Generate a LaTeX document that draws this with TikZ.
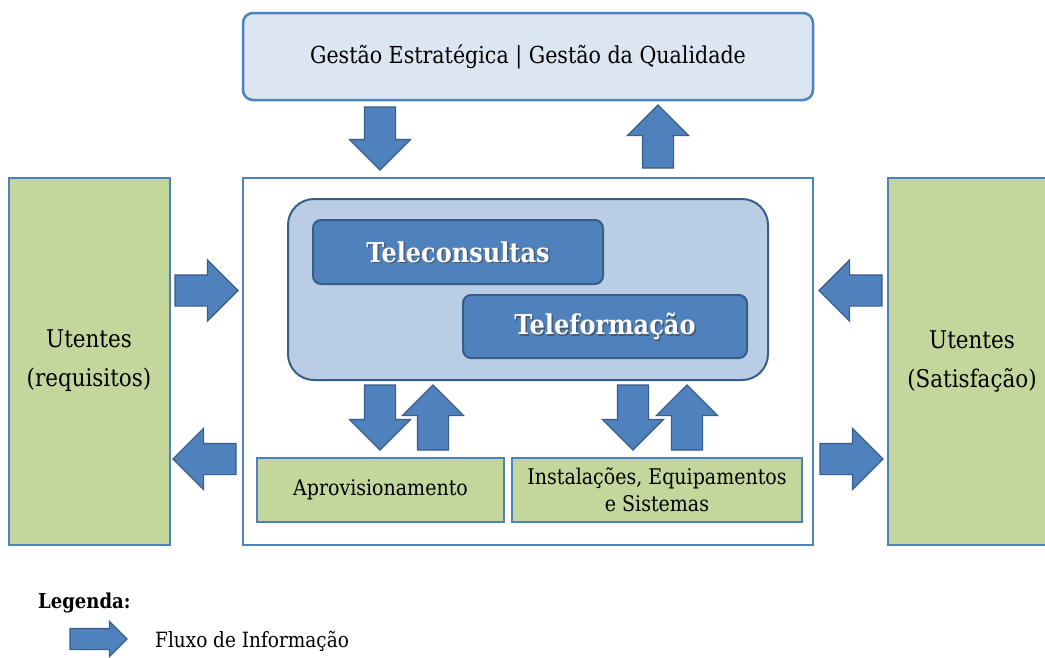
\documentclass[tikz,border=0pt]{standalone}
\usepackage{fontspec}
\setmainfont[FakeStretch=0.88]{DejaVu Serif}
\usetikzlibrary{shapes.arrows}
\definecolor{accent}{HTML}{4F81BD}
\definecolor{accentdark}{HTML}{385D8A}
\definecolor{paleblue}{HTML}{DCE6F2}
\definecolor{midblue}{HTML}{B9CDE5}
\definecolor{palegreen}{HTML}{C3D69B}
\begin{document}
\begin{tikzpicture}[x=1pt,y=1pt,
  box/.style={draw=accent, line width=2pt, inner sep=0pt, outer sep=0pt},
  greenbox/.style={box, fill=palegreen},
  topbox/.style={box, fill=paleblue, line width=2.5pt, rounded corners=10pt},
  frame/.style={box, fill=white},
  innerbox/.style={draw=accentdark, fill=midblue, line width=2pt, rounded corners=26pt, inner sep=0pt},
  darkbox/.style={draw=accentdark, fill=accent, line width=2pt, rounded corners=8pt, inner sep=0pt},
  flow/.style={single arrow, fill=accent, draw=accentdark, line width=1.2pt,
    minimum height=63pt, inner xsep=0pt, inner ysep=15pt, single arrow head extend=15pt,
    single arrow tip angle=90, outer sep=0pt, anchor=tip},
  legendflow/.style={flow, minimum height=57pt, inner ysep=10pt, single arrow head extend=7pt},
  plain/.style={font=\fontsize{21.6}{27}\selectfont, align=center, inner sep=0pt},
  side/.style={font=\fontsize{24.4}{39}\selectfont, align=center, inner sep=0pt},
  bold/.style={font=\bfseries\fontsize{27.3}{27}\selectfont, inner sep=0pt},
  shadowtext/.style={bold, text=black!75, opacity=0.6},
  whitetext/.style={bold, text=white}
]
\useasboundingbox (0,0) rectangle (1045,-657);

% top box
\node[topbox, minimum width=570, minimum height=87] (top) at (528,-56.5) {};
\node[plain, font=\fontsize{23.4}{27}\selectfont] (toptext) at (top) {Gestão Estratégica | Gestão da Qualidade};

% main frame
\node[frame, minimum width=570, minimum height=367] (main) at (528,-361.5) {};

% side boxes
\node[greenbox, minimum width=161, minimum height=367] (left) at (89.5,-361.5) {};
\node[side] (lefttext) at (89,-361) {Utentes\\(requisitos)};
\node[greenbox, minimum width=168, minimum height=367] (right) at (972,-361.5) {};
\node[side] (righttext) at (972,-361) {Utentes\\(Satisfação)};

% inner rounded box
\node[innerbox, minimum width=480, minimum height=181] (core) at (528,-289.5) {};
\node[darkbox, minimum width=290, minimum height=64] (tc) at (458,-252) {};
\node[shadowtext] at ([shift={(1.5,-1.5)}]tc.center) {Teleconsultas};
\node[whitetext] (tctext) at (tc) {Teleconsultas};
\node[darkbox, minimum width=284, minimum height=63] (tf) at (605,-326.5) {};
\node[shadowtext] at ([shift={(1.5,-1.5)}]tf.center) {Teleformação};
\node[whitetext] (tftext) at (tf) {Teleformação};

% bottom green boxes
\node[greenbox, minimum width=247, minimum height=64] (aprov) at (380.5,-490) {};
\node[plain] (aprovtext) at (aprov) {Aprovisionamento};
\node[greenbox, minimum width=290, minimum height=64] (inst) at (657,-490) {};
\node[plain] (insttext) at (inst) {Instalações, Equipamentos\\e Sistemas};

% flow arrows, top
\node[flow, rotate=-90] (a1) at (380,-170) {};
\node[flow, rotate=90] (a2) at (658,-105) {};
% flow arrows, middle
\node[flow, rotate=-90, minimum height=65] (a3) at (380,-450) {};
\node[flow, rotate=90, minimum height=65] (a4) at (433,-385) {};
\node[flow, rotate=-90, minimum height=65] (a5) at (633,-450) {};
\node[flow, rotate=90, minimum height=65] (a6) at (687,-385) {};
% flow arrows, sides
\node[flow] (a7) at (238,-290.5) {};
\node[flow, rotate=180] (a8) at (173,-459) {};
\node[flow, rotate=180] (a9) at (819,-290.5) {};
\node[flow] (a10) at (883,-459) {};

% legend
\node[font=\bfseries\fontsize{20.5}{20}\selectfont, anchor=west, inner sep=0pt] (leg) at (38,-603) {Legenda:};
\node[legendflow] (legarrow) at (127,-639) {};
\node[plain, font=\fontsize{21}{24}\selectfont, anchor=west] (legtext) at (155,-641) {Fluxo de Informação};
\end{tikzpicture}
\end{document}
